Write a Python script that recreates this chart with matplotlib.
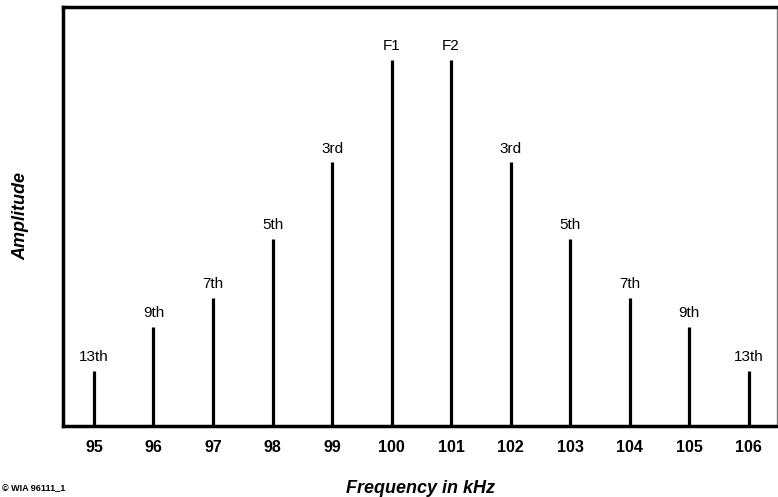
import matplotlib.pyplot as plt

plt.rcParams['font.family'] = ['Liberation Sans', 'DejaVu Sans']

freqs = [95, 96, 97, 98, 99, 100, 101, 102, 103, 104, 105, 106]
amps = [0.15, 0.27, 0.35, 0.51, 0.72, 1.0, 1.0, 0.72, 0.51, 0.35, 0.27, 0.15]
labels = ["13th", "9th", "7th", "5th", "3rd", "F1", "F2", "3rd", "5th", "7th", "9th", "13th"]

fig = plt.figure(figsize=(7.78, 4.97), dpi=100)
ax = fig.add_axes([0.081, 0.143, 0.918, 0.843])

ax.vlines(freqs, 0, amps, color="black", linewidth=2.3)
for f, a, lab in zip(freqs, amps, labels):
    ax.annotate(lab, (f, a), xytext=(0, 5), textcoords="offset points",
                ha="center", va="bottom", fontsize=11)

ax.set_xlim(94.48, 106.48)
ax.set_ylim(0, 1.145)
ax.set_xticks(freqs)
ax.set_xticklabels([str(f) for f in freqs], fontsize=11.5, fontweight="bold")
ax.set_yticks([])
ax.tick_params(axis="x", length=0, pad=10)

for s in ["left", "bottom", "top"]:
    ax.spines[s].set_linewidth(2.5)
ax.spines["right"].set_linewidth(1)
ax.spines["right"].set_color("#777777")

ax.set_xlabel("Frequency in kHz", fontsize=13, fontweight="bold", style="italic", labelpad=18)
ax.set_ylabel("Amplitude", fontsize=13, fontweight="bold", style="italic", labelpad=24)

fig.text(0.002, 0.012, "© WIA 96111_1", fontsize=6.5, fontweight="bold")

fig.savefig("out.png", dpi=100)
